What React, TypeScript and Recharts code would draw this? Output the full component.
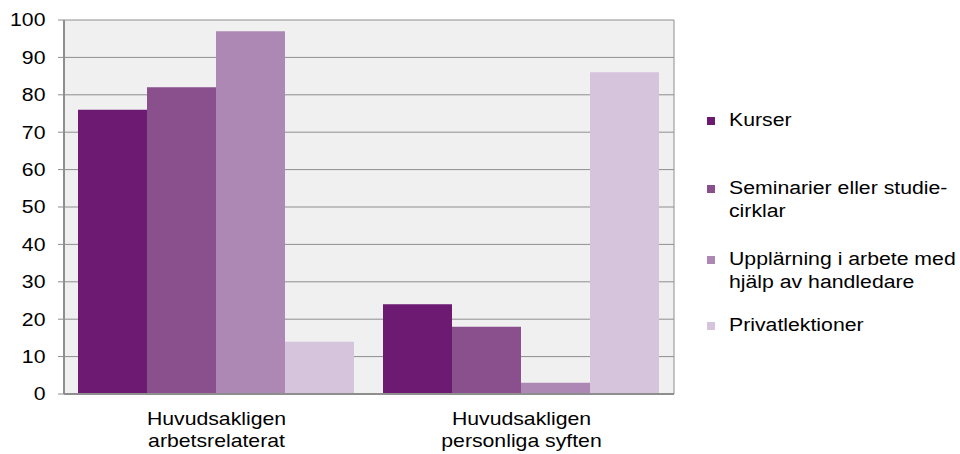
import React from "react";
import { BarChart, Bar, XAxis, YAxis, CartesianGrid } from "recharts";

const categories = ["Huvudsakligen arbetsrelaterat", "Huvudsakligen personliga syften"];
const categoryLines = [
  ["Huvudsakligen", "arbetsrelaterat"],
  ["Huvudsakligen", "personliga syften"],
];
const seriesNames = ["Kurser", "Seminarier eller studiecirklar", "Upplärning i arbete med hjälp av handledare", "Privatlektioner"];
const legendLines = [
  ["Kurser"],
  ["Seminarier eller studie-", "cirklar"],
  ["Upplärning i arbete med", "hjälp av handledare"],
  ["Privatlektioner"],
];
const kurser = [76, 24];
const seminarier = [82, 18];
const upplarning = [97, 3];
const privat = [14, 86];
const yTicks = [0, 10, 20, 30, 40, 50, 60, 70, 80, 90, 100];

const seriesValues = [kurser, seminarier, upplarning, privat];
const colors = ["#6d1a72", "#8a4f8d", "#ad88b5", "#d6c3dc"];
const keys = ["s0", "s1", "s2", "s3"];

const data = categories.map((c, i) => {
  const row: any = { name: c, idx: i };
  keys.forEach((k, s) => (row[k] = seriesValues[s][i]));
  return row;
});

const FONT = "'Liberation Sans', Arial, sans-serif";
const FS = 18;
const SX = 1.18;

const YTick = (props: any) => {
  const { x, y, payload } = props;
  return (
    <text
      x={x}
      y={y}
      dy={6.4}
      textAnchor="end"
      fontFamily={FONT}
      fontSize={FS}
      fill="#000"
      transform={`translate(${x} ${y}) scale(${SX} 1) translate(${-x} ${-y})`}
    >
      {payload.value}
    </text>
  );
};

const XTick = (props: any) => {
  const { x, y, index } = props;
  const lines = categoryLines[index] || [];
  return (
    <g transform={`translate(${x} ${y}) scale(${SX} 1)`}>
      {lines.map((l, i) => (
        <text key={i} x={0} y={23 + i * 22} textAnchor="middle" fontFamily={FONT} fontSize={FS} fill="#000">
          {l}
        </text>
      ))}
    </g>
  );
};

const legendTops = [109, 177, 248, 314];

export default function App() {
  return (
    <div style={{ position: "absolute", left: 0, top: 0, width: 960, height: 454, background: "#fff" }}>
      <BarChart
        width={960}
        height={454}
        data={data}
        margin={{ top: 20, right: 286, bottom: 0, left: 0 }}
        barCategoryGap={14}
        barGap={0}
      >
        <CartesianGrid
          fill="#f0f0f0"
          stroke="#8e8e8e"
          strokeWidth={1}
          horizontalValues={yTicks}
          verticalCoordinatesGenerator={(p: any) => [p.offset.left + p.offset.width]}
        />
        <XAxis
          dataKey="name"
          tickLine={false}
          axisLine={{ stroke: "#8e8e8e", strokeWidth: 2 }}
          height={60}
          tick={<XTick />}
          interval={0}
        />
        <YAxis
          domain={[0, 100]}
          ticks={yTicks}
          width={64}
          tickSize={6}
          tickMargin={12.5}
          axisLine={{ stroke: "#8e8e8e", strokeWidth: 2 }}
          tickLine={{ stroke: "#8e8e8e" }}
          tick={<YTick />}
          interval={0}
        />
        {keys.map((k, s) => (
          <Bar key={k} dataKey={k} name={seriesNames[s]} fill={colors[s]} isAnimationActive={false} />
        ))}
      </BarChart>
      {legendLines.map((lines, i) => (
        <div
          key={i}
          style={{
            position: "absolute",
            left: 707,
            top: legendTops[i],
            display: "flex",
            alignItems: "flex-start",
            fontFamily: FONT,
            fontSize: FS,
            lineHeight: "23px",
            color: "#000",
          }}
        >
          <div style={{ width: 8, height: 8, background: colors[i], marginTop: 8, marginRight: 14 }} />
          <div style={{ transform: `scaleX(${SX})`, transformOrigin: "left center", whiteSpace: "nowrap" }}>
            {lines.map((l, j) => (
              <div key={j}>{l}</div>
            ))}
          </div>
        </div>
      ))}
    </div>
  );
}
